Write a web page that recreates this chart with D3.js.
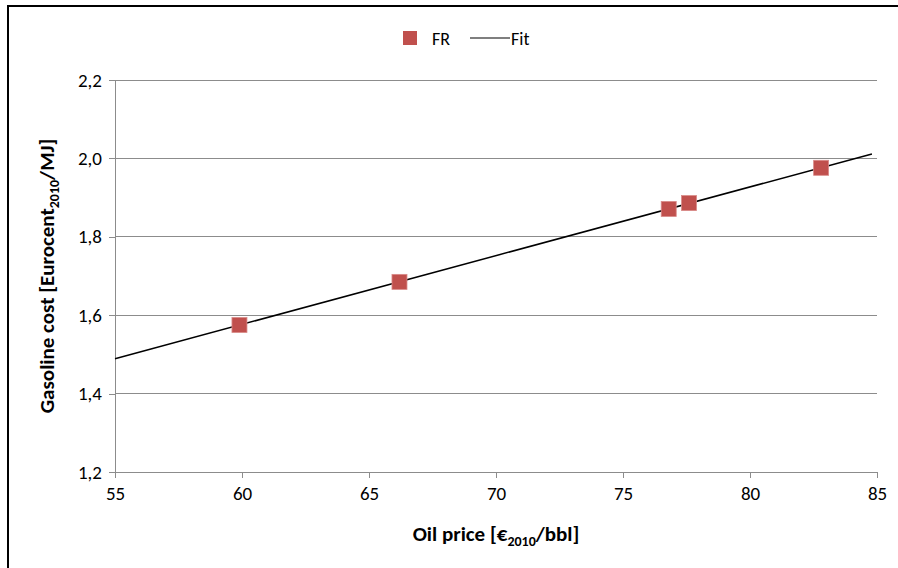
<!DOCTYPE html>
<html>
<head>
<meta charset="utf-8">
<script src="https://cdn.jsdelivr.net/npm/d3@7"></script>
<style>
  html, body { margin: 0; padding: 0; background: #fff; }
  svg { display: block; }
  text { font-family: Carlito, "Liberation Sans Narrow", Lato, "Open Sans", sans-serif; fill: #000; }
</style>
</head>
<body>
<svg id="chart" width="898" height="568"></svg>
<script>
// Oil price (€2010/bbl) versus gasoline cost (Eurocent2010/MJ), France
const oilPrice = [59.9, 66.2, 76.8, 77.6, 82.8];
const gasolineCost = [1.575, 1.685, 1.871, 1.886, 1.976];
const xTicks = [55, 60, 65, 70, 75, 80, 85];
const yTicks = [1.2, 1.4, 1.6, 1.8, 2.0, 2.2];
const fitRange = [55, 84.8];
const seriesName = "FR";
const fitName = "Fit";

const svg = d3.select("#chart");
const W = 898, H = 568;
const plot = { left: 115, right: 877, top: 80, bottom: 472 };
const markerColor = "#C0504D";
const fontStack = 'Carlito, "Liberation Sans Narrow", Lato, "Open Sans", sans-serif';

// outer frame
svg.append("rect")
  .attr("x", 8).attr("y", 6)
  .attr("width", W).attr("height", H)
  .attr("fill", "none").attr("stroke", "#000").attr("stroke-width", 2);

const x = d3.scaleLinear().domain([55, 85]).range([plot.left, plot.right]);
const y = d3.scaleLinear().domain([1.2, 2.2]).range([plot.bottom, plot.top]);
const fmt = d => d3.format(".1f")(d).replace(".", ",");

// horizontal gridlines
svg.append("g")
  .selectAll("line")
  .data(yTicks)
  .join("line")
  .attr("x1", plot.left).attr("x2", plot.right)
  .attr("y1", d => y(d)).attr("y2", d => y(d))
  .attr("stroke", "#8c8c8c").attr("stroke-width", 1)
  .attr("shape-rendering", "crispEdges");

// axes
const xAxis = svg.append("g")
  .attr("transform", `translate(0,${plot.bottom})`)
  .call(d3.axisBottom(x).tickValues(xTicks).tickSize(6).tickPadding(9).tickFormat(d3.format("d")));
const yAxis = svg.append("g")
  .attr("transform", `translate(${plot.left},0)`)
  .call(d3.axisLeft(y).tickValues(yTicks).tickSize(6).tickPadding(7).tickFormat(fmt));

[xAxis, yAxis].forEach(g => {
  g.select(".domain").attr("stroke", "#8c8c8c").attr("shape-rendering", "crispEdges");
  g.selectAll(".tick line").attr("stroke", "#8c8c8c").attr("shape-rendering", "crispEdges");
  g.selectAll(".tick text").attr("font-size", 19).attr("fill", "#000")
    .style("font-family", fontStack);
});

// least-squares linear fit
const mx = d3.mean(oilPrice), my = d3.mean(gasolineCost);
const sxy = d3.sum(oilPrice, (v, i) => (v - mx) * (gasolineCost[i] - my));
const sxx = d3.sum(oilPrice, v => (v - mx) * (v - mx));
const slope = sxy / sxx;
const intercept = my - slope * mx;
const fitLine = d3.line().x(d => x(d)).y(d => y(intercept + slope * d));

svg.append("path")
  .datum(fitRange)
  .attr("d", fitLine)
  .attr("fill", "none").attr("stroke", "#000").attr("stroke-width", 1.5);

// data markers
const size = 15;
svg.append("g")
  .selectAll("rect")
  .data(oilPrice.map((v, i) => [v, gasolineCost[i]]))
  .join("rect")
  .attr("x", d => x(d[0]) - size / 2)
  .attr("y", d => y(d[1]) - size / 2)
  .attr("width", size).attr("height", size)
  .attr("fill", markerColor)
  .attr("stroke", "#d98a88").attr("stroke-width", 0.8);

// legend
const lg = svg.append("g");
lg.append("rect").attr("x", 403).attr("y", 31).attr("width", 14).attr("height", 14)
  .attr("fill", markerColor);
lg.append("text").attr("x", 432).attr("y", 45).attr("font-size", 18).text(seriesName);
lg.append("line").attr("x1", 470).attr("x2", 510).attr("y1", 38).attr("y2", 38)
  .attr("stroke", "#000").attr("stroke-width", 1.2);
lg.append("text").attr("x", 511).attr("y", 45).attr("font-size", 18).text(fitName);

// axis titles
const xt = svg.append("text")
  .attr("x", (plot.left + plot.right) / 2).attr("y", 541)
  .attr("text-anchor", "middle").attr("font-size", 21).attr("font-weight", "bold");
xt.append("tspan").text("Oil price [€");
xt.append("tspan").attr("font-size", 14).attr("dy", 5).text("2010");
xt.append("tspan").attr("dy", -5).text("/bbl]");

const yt = svg.append("text")
  .attr("transform", `translate(54,${(plot.top + plot.bottom) / 2}) rotate(-90)`)
  .attr("text-anchor", "middle").attr("font-size", 21).attr("font-weight", "bold");
yt.append("tspan").text("Gasoline cost [Eurocent");
yt.append("tspan").attr("font-size", 14).attr("dy", 5).text("2010");
yt.append("tspan").attr("dy", -5).text("/MJ]");
</script>
</body>
</html>
